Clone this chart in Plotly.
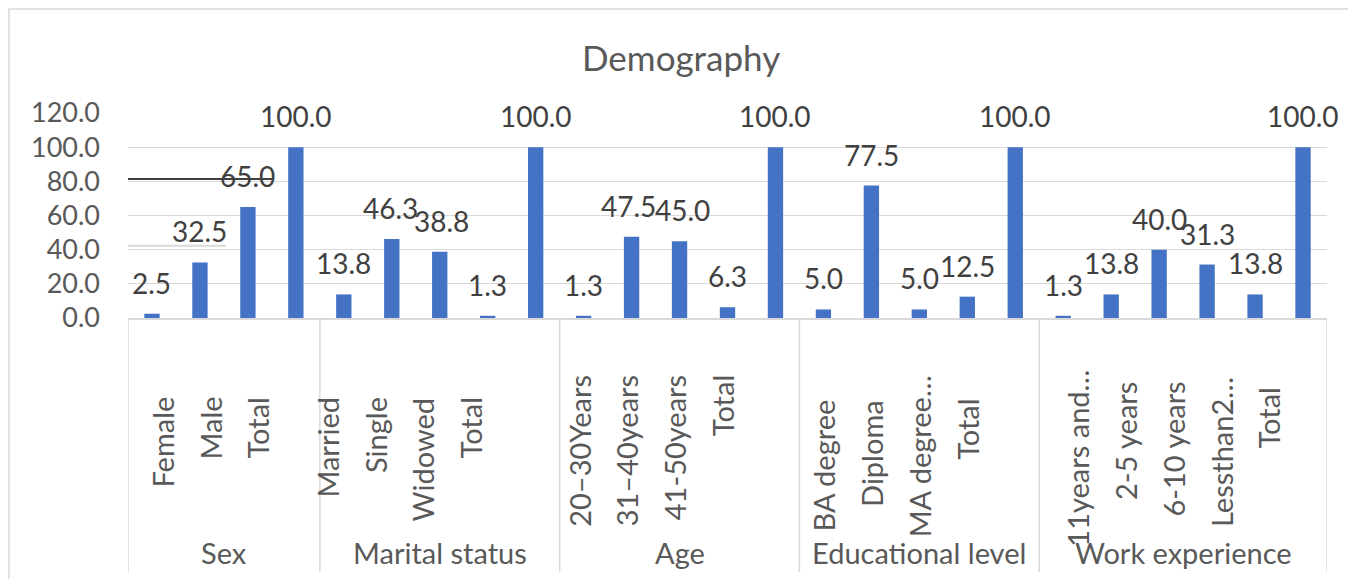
import plotly.graph_objects as go

# ---------------- data ----------------
groups = ["Sex", "Marital status", "Age", "Educational level", "Work experience"]

sex_labels = ["Female", "Male", "Total", ""]
sex_values = [2.5, 32.5, 65.0, 100.0]

marital_labels = ["Married", "Single", "Widowed", "Total", ""]
marital_values = [13.8, 46.3, 38.8, 1.3, 100.0]

age_labels = ["20–30Years", "31–40years", "41-50years", "Total", ""]
age_values = [1.3, 47.5, 45.0, 6.3, 100.0]

edu_labels = ["BA degree", "Diploma", "MA degree…", "Total", ""]
edu_values = [5.0, 77.5, 5.0, 12.5, 100.0]

work_labels = ["11years and…", "2-5 years", "6-10 years", "Lessthan2…", "Total", ""]
work_values = [1.3, 13.8, 40.0, 31.3, 13.8, 100.0]

y_ticks = [0, 20, 40, 60, 80, 100, 120]

group_labels = [sex_labels, marital_labels, age_labels, edu_labels, work_labels]
group_values = [sex_values, marital_values, age_values, edu_values, work_values]

# ---------------- layout constants ----------------
OFF = 8                      # page body margin
W, H = 1348, 571
ML, MR, MT, MB = 120, 29, 105, 261
PLOT_H = H - MT - MB
PLOT_W = W - ML - MR
FONT = "Lato"
TXT = "#595959"
LBL = "#404040"
GRID = "#d9d9d9"
BAR = "#4472C4"

# per-group horizontal shift of the rotated category labels (slot units)
label_shift = [0.21, -0.35, -0.1, 0.0, 0.29]
# top pixel (screen) of each rotated category label
label_tops = [
    [395, 395, 395],
    [395, 395, 396, 395],
    [373, 373, 373, 373],
    [397, 398, 373, 397],
    [368, 380, 380, 375, 385],
]
# small horizontal nudges (px) of crowded value labels: (group, item) -> shift
value_nudge = {(2, 1): -3, (2, 2): 3, (1, 1): -1, (1, 2): 2}


def py(pix):
    """screen pixel row -> paper y"""
    return (H - MB - (pix - OFF)) / PLOT_H


def px(pix):
    """screen pixel column -> paper x"""
    return ((pix - OFF) - ML) / PLOT_W


xs, ys = [], []
annotations = []
shapes = []
pos = 0
boundaries = [-0.5]
group_centers = []
for gi, (labs, vals) in enumerate(zip(group_labels, group_values)):
    start = pos
    for li, (lab, v) in enumerate(zip(labs, vals)):
        xs.append(pos)
        ys.append(v)
        annotations.append(dict(
            x=pos, y=v, xref="x", yref="y", text=f"{v:.1f}", showarrow=False,
            yanchor="bottom", xanchor="center", yshift=12,
            xshift=value_nudge.get((gi, li), 0),
            font=dict(family=FONT, size=28, color=LBL)))
        if lab:
            annotations.append(dict(
                x=pos + label_shift[gi], y=py(label_tops[gi][li]), xref="x", yref="paper",
                text=lab, showarrow=False, textangle=-90,
                xanchor="center", yanchor="top",
                font=dict(family=FONT, size=29, color=TXT)))
        pos += 1
    boundaries.append(pos - 0.5)
    group_centers.append((start + pos - 1) / 2)

for gname, c in zip(groups, group_centers):
    annotations.append(dict(
        x=c, y=py(552), xref="x", yref="paper", text=gname, showarrow=False,
        xanchor="center", yanchor="middle",
        font=dict(family=FONT, size=29, color=TXT)))

# group dividers
for b in boundaries:
    shapes.append(dict(type="line", xref="x", yref="paper", x0=b, x1=b,
                       y0=0, y1=py(572), line=dict(color=GRID, width=1.5)))

# stray lines seen in the original
shapes.append(dict(type="line", xref="x", yref="y", x0=-0.5, x1=2.52, y0=81.4, y1=81.4,
                   line=dict(color="#404040", width=2)))
shapes.append(dict(type="line", xref="x", yref="y", x0=-0.5, x1=1.54, y0=42.3, y1=42.3,
                   line=dict(color=GRID, width=2)))

# chart border
shapes.append(dict(type="rect", xref="paper", yref="paper",
                   x0=px(OFF + 1), x1=px(OFF + W - 1), y0=py(OFF + 1), y1=py(600),
                   line=dict(color=GRID, width=1.5), layer="below"))

fig = go.Figure(go.Bar(x=xs, y=ys, width=0.32, marker=dict(color=BAR, line=dict(width=0)),
                       hoverinfo="y"))

annotations.append(dict(
    x=px(681), y=py(57), xref="paper", yref="paper", text="Demography", showarrow=False,
    xanchor="center", yanchor="middle", font=dict(family=FONT, size=35, color=TXT)))

fig.update_layout(
    width=W, height=H,
    margin=dict(l=ML, r=MR, t=MT, b=MB, pad=0),
    paper_bgcolor="white", plot_bgcolor="white",
    showlegend=False,
    annotations=annotations,
    shapes=shapes,
    xaxis=dict(range=[-0.5, pos - 0.5], showticklabels=False, showgrid=False,
               zeroline=False, showline=True, linecolor=GRID, linewidth=1.5, ticks=""),
    yaxis=dict(range=[0, 120], tickvals=y_ticks, tickformat=".1f",
               showgrid=True, gridcolor=GRID, gridwidth=1.3, zeroline=False,
               showline=False, ticks="", ticklabelstandoff=27,
               tickfont=dict(family=FONT, size=27, color=TXT)),
    font=dict(family=FONT, color=TXT),
)

fig.write_html("out.html")
